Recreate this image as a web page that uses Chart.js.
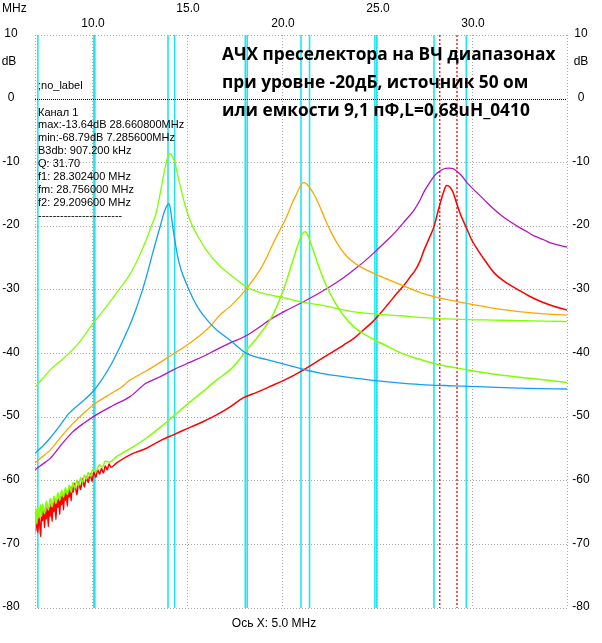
<!DOCTYPE html>
<html>
<head>
<meta charset="utf-8">
<title>АЧХ преселектора</title>
<script src="https://cdn.jsdelivr.net/npm/chart.js@4.4.1/dist/chart.umd.min.js"></script>
<style>
  html, body { margin: 0; padding: 0; background: #fff; }
  canvas { display: block; }
</style>
</head>
<body>
<canvas id="afc" width="602" height="643"></canvas>
<script>
// --- axes / markers ---
const xGridTicks = [7, 10, 15, 20, 25, 30, 35];
const xTickValues = [10, 15, 20, 25, 30];
const xTickLabels = ['10.0', '15.0', '20.0', '25.0', '30.0'];
const yTickValues = [10, 0, -10, -20, -30, -40, -50, -60, -70, -80];
// ham band edges, MHz (cyan lines)
const bandEdges = [7.15, 10.1, 10.15, 14.0, 14.35, 18.068, 18.168, 21.0, 21.45, 24.89, 24.99, 28.0, 29.7];
// -3 dB markers f1 / f2 (red dotted)
const markerFreqs = [28.3024, 29.2096];

const infoLines = [
  'Канал 1',
  'max:-13.64dB 28.660800MHz',
  'min:-68.79dB 7.285600MHz',
  'B3db: 907.200 kHz',
  'Q: 31.70',
  'f1: 28.302400 MHz',
  'fm: 28.756000 MHz',
  'f2: 29.209600 MHz',
  '-----------------------'
];
const titleLines = [
  'АЧХ преселектора на ВЧ диапазонах',
  'при уровне -20дБ, источник 50 ом',
  'или емкости 9,1 пФ,L=0,68uH_0410'
];

// --- series: [MHz, dB] ---
const blue14 = [[7.0,-55.7],[7.4,-54.6],[7.8,-53.3],[8.3,-51.4],[8.8,-49.4],[9.4,-47.8],[10.05,-46.0],[10.5,-44.2],
  [11.0,-41.8],[11.5,-38.8],[11.96,-35.8],[12.3,-33.2],[12.66,-30.0],[12.95,-27.0],[13.19,-24.3],[13.45,-21.5],
  [13.63,-19.6],[13.8,-17.8],[13.95,-16.8],[14.04,-16.5],[14.12,-17.2],[14.25,-20.1],[14.38,-22.6],[14.51,-24.8],
  [14.7,-27.0],[14.96,-29.0],[15.3,-31.3],[15.66,-33.2],[16.1,-34.9],[16.55,-36.3],[17.25,-37.9],[18.13,-40.0],
  [19.2,-41.0],[20.25,-41.8],[21.1,-42.5],[22.0,-43.1],[23.3,-43.7],[24.66,-44.2],[26.0,-44.6],[27.3,-44.9],
  [29.0,-45.1],[31.0,-45.3],[33.0,-45.5],[35.0,-45.6]];

const green14 = [[7.0,-45.3],[7.4,-44.0],[7.8,-42.6],[8.5,-40.8],[9.3,-38.4],[10.0,-35.5],[10.8,-32.5],[11.42,-30.0],
  [12.0,-27.6],[12.4,-25.3],[12.85,-22.2],[13.1,-20.2],[13.37,-18.0],[13.55,-15.5],[13.72,-12.8],[13.88,-10.4],
  [14.0,-9.0],[14.07,-8.6],[14.15,-8.7],[14.25,-9.2],[14.35,-9.9],[14.55,-12.5],[14.78,-15.4],[15.05,-18.2],
  [15.3,-20.1],[15.65,-22.0],[16.0,-23.7],[16.7,-26.2],[17.3,-27.7],[18.1,-29.5],[19.0,-30.6],[20.0,-31.2],
  [21.0,-31.9],[22.0,-32.4],[23.8,-33.5],[26.2,-34.1],[28.0,-34.5],[31.5,-34.8],[35.0,-35.0]];

const orange21 = [[7.0,-57.2],[7.4,-56.2],[7.8,-55.2],[8.4,-53.0],[9.0,-51.0],[9.6,-49.3],[10.2,-47.8],[10.9,-46.5],
  [11.6,-45.2],[12.0,-44.2],[12.9,-42.7],[14.07,-40.5],[15.0,-38.7],[15.84,-36.8],[16.3,-35.5],[16.72,-34.0],
  [17.25,-32.7],[17.78,-31.1],[18.3,-29.2],[18.84,-26.9],[19.2,-24.9],[19.54,-22.7],[19.9,-20.6],[20.25,-18.5],
  [20.55,-16.3],[20.78,-14.9],[20.95,-13.8],[21.13,-13.2],[21.3,-13.4],[21.49,-14.1],[21.75,-15.4],[22.0,-17.0],
  [22.35,-19.5],[22.71,-21.7],[23.05,-23.4],[23.42,-24.8],[23.85,-25.9],[24.3,-26.7],[25.18,-27.9],[26.4,-29.4],
  [27.3,-30.5],[28.0,-31.1],[29.77,-32.2],[31.53,-33.1],[33.3,-33.7],[35.0,-34.0]];

const green21 = [[7.0,-68.5],[7.05,-64.3],[7.1,-66.8],[7.15,-64.0],[7.2,-65.9],[7.3,-63.8],[7.35,-65.6],[7.4,-63.7],
  [7.5,-65.2],[7.6,-63.2],[7.7,-64.6],[7.8,-62.8],[7.9,-64.1],[8.0,-62.4],[8.1,-63.6],[8.2,-61.9],[8.3,-63.1],
  [8.4,-61.5],[8.5,-62.6],[8.6,-61.1],[8.7,-62.2],[8.8,-60.7],[8.9,-61.8],[9.0,-60.3],[9.1,-61.2],[9.2,-59.9],
  [9.3,-60.8],[9.4,-59.5],[9.5,-60.3],[9.6,-59.1],[9.7,-59.8],[9.8,-58.7],[9.9,-59.3],[10.05,-58.2],[10.2,-58.6],
  [10.4,-57.5],[10.55,-57.9],[10.7,-56.9],[10.9,-57.1],[11.3,-56.2],
  [12.1,-54.8],[12.87,-53.3],[13.6,-51.6],[14.28,-49.9],[14.9,-48.3],[15.5,-46.8],[16.0,-45.6],[16.55,-44.2],
  [17.27,-42.6],[17.7,-41.2],[18.13,-39.5],[18.6,-37.9],[19.01,-36.3],[19.4,-34.6],[19.72,-32.7],[20.0,-30.6],
  [20.25,-28.5],[20.5,-26.1],[20.69,-24.3],[20.9,-22.4],[21.05,-21.3],[21.22,-20.9],[21.4,-21.7],[21.57,-23.2],
  [21.8,-25.2],[22.0,-26.9],[22.35,-29.5],[22.71,-31.6],[23.2,-33.9],[23.77,-35.8],[24.4,-37.1],[25.0,-38.1],
  [25.7,-39.1],[26.3,-40.0],[27.1,-40.8],[28.0,-41.6],[29.77,-42.6],[31.5,-43.4],[33.3,-44.0],[35.0,-44.6]];

const purple28 = [[7.0,-58.3],[7.4,-57.4],[7.8,-56.5],[8.4,-54.3],[9.0,-52.3],[9.6,-50.9],[10.2,-49.7],[11.1,-48.2],
  [12.0,-46.8],[12.84,-44.7],[13.5,-43.8],[14.28,-42.6],[15.0,-41.6],[15.84,-40.5],[16.5,-39.5],[17.25,-38.4],
  [18.13,-37.2],[18.8,-35.9],[19.37,-34.7],[20.2,-33.3],[21.13,-31.9],[21.8,-30.8],[22.54,-29.5],[23.2,-28.2],
  [23.77,-26.9],[24.4,-25.4],[25.0,-23.75],[25.55,-22.2],[26.07,-20.6],[26.5,-19.1],[26.95,-17.5],[27.25,-16.0],
  [27.48,-14.6],[27.75,-13.3],[28.0,-12.2],[28.2,-11.6],[28.4,-11.2],[28.6,-10.95],[28.8,-10.9],[29.0,-11.0],
  [29.2,-11.4],[29.42,-12.0],[29.77,-13.3],[30.2,-14.6],[30.65,-15.9],[31.1,-17.2],[31.53,-18.3],[32.0,-19.3],
  [32.42,-20.1],[32.9,-20.9],[33.3,-21.6],[33.8,-22.2],[34.18,-22.7],[35.0,-23.3]];

const red28 = [[7.0,-65.0],[7.05,-67.9],[7.1,-64.8],[7.15,-68.2],[7.2,-65.5],[7.25,-66.9],[7.3,-68.8],[7.35,-64.6],
  [7.4,-66.3],[7.45,-64.3],[7.5,-67.4],[7.55,-64.9],[7.6,-66.0],[7.65,-63.9],[7.7,-67.2],[7.75,-64.2],[7.8,-65.6],
  [7.85,-63.6],[7.9,-66.4],[7.95,-63.5],[8.0,-64.9],[8.05,-62.8],[8.1,-66.1],[8.15,-63.0],[8.2,-64.2],[8.25,-62.6],
  [8.3,-65.3],[8.35,-62.5],[8.4,-63.8],[8.45,-62.0],[8.5,-64.6],[8.55,-62.0],[8.6,-63.1],[8.65,-61.6],[8.7,-64.0],
  [8.75,-61.5],[8.8,-62.6],[8.85,-61.0],[8.9,-63.2],[8.95,-60.9],[9.0,-61.8],[9.1,-60.4],[9.2,-62.2],[9.3,-60.2],
  [9.4,-61.4],[9.5,-59.7],[9.6,-61.0],[9.7,-59.4],[9.8,-60.3],[9.9,-58.9],[10.0,-60.1],[10.1,-58.7],[10.2,-59.5],
  [10.3,-58.3],[10.4,-59.0],[10.5,-58.1],[10.6,-58.8],[10.7,-57.7],[10.8,-58.3],[10.9,-57.4],[11.0,-57.9],
  [11.3,-57.2],[12.1,-55.8],[12.87,-54.9],[13.6,-53.7],[14.28,-52.8],[15.1,-51.7],[15.86,-50.7],
  [16.6,-49.6],[17.27,-48.4],[17.95,-47.0],[18.7,-46.1],[19.37,-45.2],[20.2,-44.1],[20.95,-42.9],[22.0,-41.0],
  [22.6,-39.9],[23.24,-38.7],[23.8,-37.6],[24.3,-36.3],[24.75,-35.1],[25.18,-33.7],[25.6,-32.2],[26.07,-30.5],
  [26.45,-29.2],[26.77,-27.9],[27.0,-27.0],[27.25,-25.6],[27.48,-23.75],[27.75,-21.9],[28.0,-20.1],[28.15,-18.4],
  [28.3,-16.7],[28.5,-14.7],[28.66,-13.64],[28.85,-13.9],[29.0,-14.7],[29.21,-16.6],[29.45,-18.6],[29.68,-20.1],
  [29.95,-22.0],[30.3,-23.75],[30.7,-25.5],[31.18,-27.4],[31.8,-28.9],[32.42,-30.0],[33.0,-31.0],[33.65,-31.9],
  [34.3,-32.6],[35.0,-33.2]];

const GRID = '#a8a8a8';
const CYAN = '#1ee6f2';
const LABEL_FONT = "12px 'Liberation Sans', Arial, sans-serif";
const INFO_FONT = "11px 'Liberation Sans', Arial, sans-serif";
const TITLE_FONT = "bold 17.3px 'Open Sans', 'Noto Sans', sans-serif";

function series(points, color, width) {
  return {
    data: points.map(([x, y]) => ({ x, y })),
    borderColor: color,
    borderWidth: width || 1.3,
    pointRadius: 0,
    fill: false,
    cubicInterpolationMode: 'monotone'
  };
}

function vline(ctx, px, top, bottom) {
  ctx.beginPath();
  ctx.moveTo(px, top);
  ctx.lineTo(px, bottom);
  ctx.stroke();
}

const overlay = {
  id: 'overlay',
  beforeDatasetsDraw(chart) {
    const { ctx, chartArea: a, scales: { x, y } } = chart;
    ctx.save();
    ctx.strokeStyle = CYAN;
    ctx.lineWidth = 1.6;
    bandEdges.forEach(f => vline(ctx, x.getPixelForValue(f), a.top, a.bottom));

    ctx.strokeStyle = '#ff0000';
    ctx.lineWidth = 1.3;
    ctx.setLineDash([2, 2]);
    markerFreqs.forEach(f => vline(ctx, x.getPixelForValue(f), a.top, a.bottom));

    // 0 dB reference line
    ctx.strokeStyle = '#000';
    ctx.lineWidth = 1;
    ctx.setLineDash([1, 1]);
    const y0 = Math.round(y.getPixelForValue(0)) + 0.5;
    ctx.beginPath();
    ctx.moveTo(a.left, y0);
    ctx.lineTo(a.right, y0);
    ctx.stroke();
    ctx.restore();
  },
  afterDraw(chart) {
    const { ctx, chartArea: a, scales: { x, y } } = chart;
    ctx.save();
    ctx.fillStyle = '#000';
    ctx.font = LABEL_FONT;
    ctx.textBaseline = 'middle';

    ctx.textAlign = 'left';
    ctx.fillText('MHz', 2, 9);

    ctx.textAlign = 'center';
    xTickValues.forEach((v, i) => {
      ctx.fillText(xTickLabels[i], x.getPixelForValue(v) + 1, i % 2 ? 9 : 24);
    });
    yTickValues.forEach(v => {
      const py = y.getPixelForValue(v) - 1;
      ctx.fillText(String(v), 11, py);
      ctx.fillText(String(v), a.right + 14, py);
    });
    ctx.fillText('dB', 9, a.top + 27);
    ctx.fillText('dB', a.right + 14, a.top + 27);
    ctx.fillText('Ось X: 5.0 MHz', 274, a.bottom + 16);

    // measurement block
    ctx.textAlign = 'left';
    ctx.font = INFO_FONT;
    ctx.fillText(';no_label', a.left + 3, 86);
    infoLines.forEach((t, i) => ctx.fillText(t, a.left + 3, 112.5 + i * 12.9));

    ctx.font = TITLE_FONT;
    ctx.textBaseline = 'alphabetic';
    titleLines.forEach((t, i) => ctx.fillText(t, 222, 60 + i * 28));
    ctx.restore();
  }
};

new Chart(document.getElementById('afc'), {
  type: 'line',
  data: {
    datasets: [
      series(blue14, '#14a0f0'),
      series(green14, '#80ff00'),
      series(orange21, '#ffa500'),
      series(green21, '#80ff00', 1.5),
      series(purple28, '#b414c0'),
      series(red28, '#ff0000', 1.5)
    ]
  },
  options: {
    responsive: false,
    animation: false,
    devicePixelRatio: 1,
    layout: { padding: { left: 35, right: 35, top: 35, bottom: 35 } },
    plugins: { legend: { display: false }, tooltip: { enabled: false } },
    scales: {
      x: {
        type: 'linear',
        min: 7,
        max: 35,
        afterBuildTicks: s => { s.ticks = xGridTicks.map(v => ({ value: v })); },
        ticks: { display: false },
        grid: { color: GRID, drawTicks: false },
        border: { display: false, dash: [1, 2] }
      },
      y: {
        min: -80,
        max: 10,
        ticks: { display: false, stepSize: 10 },
        grid: { color: c => (c.tick.value === 0 ? 'rgba(0,0,0,0)' : GRID), drawTicks: false },
        border: { display: false, dash: [1, 2] }
      }
    }
  },
  plugins: [overlay]
});
</script>
</body>
</html>
